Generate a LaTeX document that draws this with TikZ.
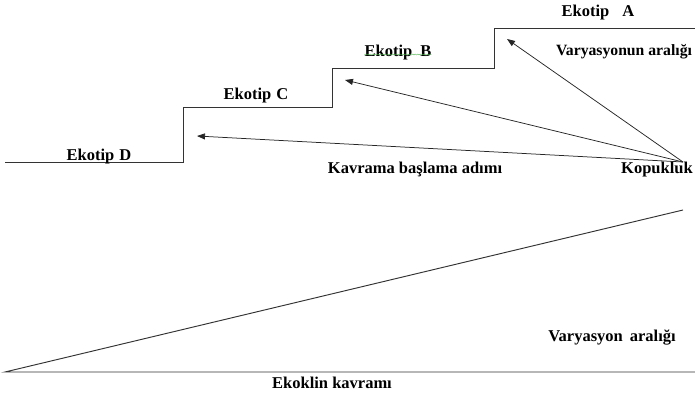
\documentclass[tikz,border=0pt]{standalone}
\usepackage{fontspec}
\setmainfont{Liberation Serif}
\usetikzlibrary{arrows.meta,decorations.pathmorphing}
\begin{document}
\begin{tikzpicture}[x=1pt,y=-1pt,
  lbl/.style={font=\fontsize{16.5}{18}\selectfont\bfseries, inner sep=0pt, anchor=base},
  small/.style={font=\fontsize{15.7}{18}\selectfont\bfseries, inner sep=0pt, anchor=base},
  stair/.style={draw=black!80, line width=0.95pt},
  ptr/.style={draw=black!85, line width=0.75pt, -{Triangle[length=8pt,width=6pt]}}]
\useasboundingbox (0,0) rectangle (695,395);

% stepped profile of the ecotypes
\draw[stair] (5,162) -- (183,162) -- (183,107) -- (332,107) -- (332,68)
  -- (494,68) -- (494,28) -- (695,28);

% labels
\node[lbl] (ekA) at (598,17) {Ekotip\hspace{13pt}A};
\node[small] (var1) at (624,56) {Varyasyonun aralığı};
\node[lbl] (ekB) at (398,57) {Ekotip\hspace{8pt}B};
\node[lbl] (ekC) at (256,100) {Ekotip\hspace{5pt}C};
\node[lbl] (ekD) at (99,161) {Ekotip\hspace{5pt}D};
\node[lbl] (kav) at (415,174) {Kavrama başlama adımı};
\node[lbl] (kop) at (657,174) {Kopukluk};
\node[lbl] (var2) at (612,341) {Varyasyon\hspace{7pt}aralığı};
\node[lbl] (eko) at (332,388) {Ekoklin kavramı};

% spelling underline below Ekotip B
\draw[green!55!black!70, line width=0.35pt, decorate,
  decoration={snake,amplitude=0.5pt,segment length=2.5pt}]
  ([yshift=2.5pt]ekB.base west) -- ([yshift=2.5pt]ekB.base east);

% arrows from the break point
\coordinate (src) at (683,162);
\coordinate (tA) at (507,39);
\coordinate (tB) at (345,80);
\coordinate (tC) at (197,136);
\draw[ptr] (src) -- (tA);
\draw[ptr] (src) -- (tB);
\draw[ptr] (src) -- (tC);

% ecocline
\coordinate (o) at (5,372);
\coordinate (top) at (683,210);
\coordinate (end) at (695,372);
\draw[stair] (top) -- (o) -- (end);
\end{tikzpicture}
\end{document}
